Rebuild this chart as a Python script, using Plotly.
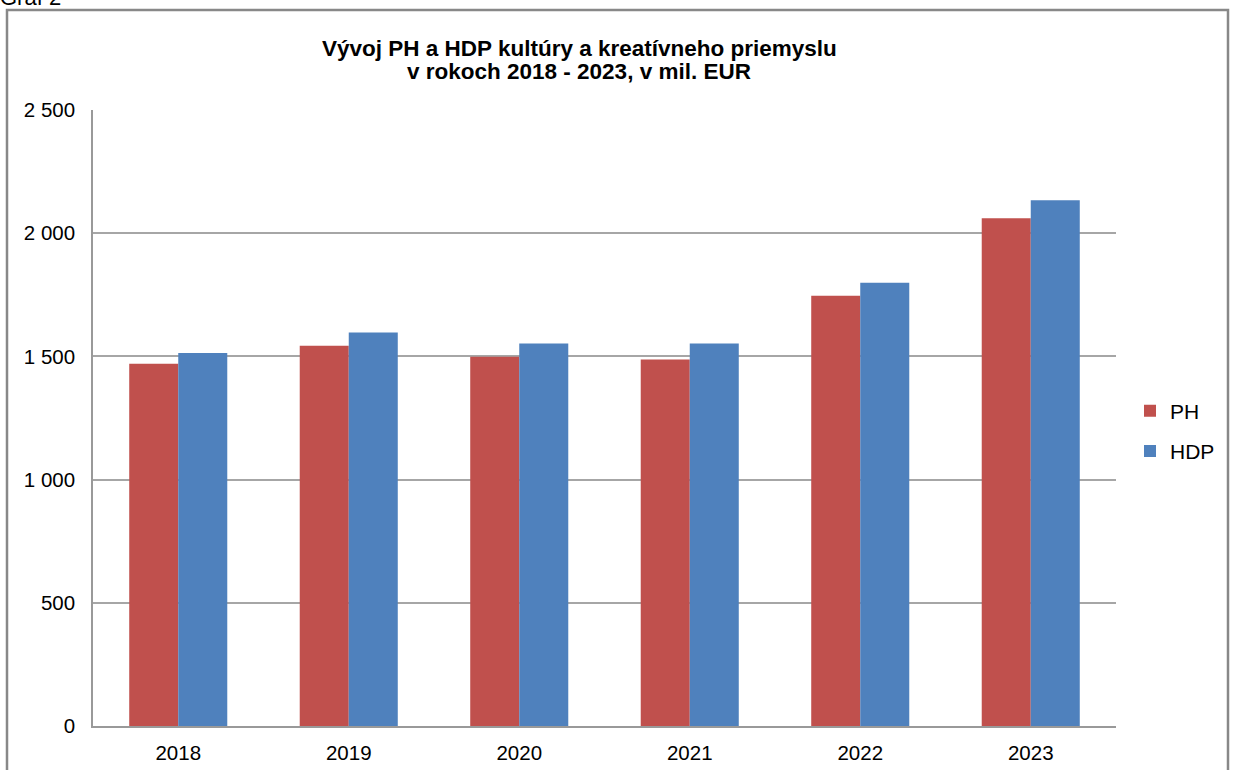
import plotly.graph_objects as go

years = ["2018", "2019", "2020", "2021", "2022", "2023"]
ph = [1470, 1543, 1499, 1487, 1746, 2061]
hdp = [1514, 1597, 1552, 1552, 1799, 2134]
ytick_vals = [0, 500, 1000, 1500, 2000, 2500]
ytick_text = ["0", "500", "1 000", "1 500", "2 000", "2 500"]

W, H = 1233, 770
L, R, T, B = 93, 117, 110, 44
pw, ph_ = W - L - R, H - T - B

def px(x):
    return (x - L) / pw

def py(y):
    return (H - B - y) / ph_

font = "Liberation Sans, Arial, sans-serif"

fig = go.Figure()
fig.add_trace(go.Bar(x=years, y=ph, name="PH", legendgroup="a",
                     marker=dict(color="#C0504D", line=dict(width=0))))
fig.add_trace(go.Bar(x=years, y=hdp, name="HDP", legendgroup="b",
                     marker=dict(color="#4F81BD", line=dict(width=0))))

fig.update_layout(
    width=W, height=H,
    margin=dict(l=L, r=R, t=T, b=B, autoexpand=False),
    paper_bgcolor="white", plot_bgcolor="white",
    barmode="group", bargap=0.425, bargroupgap=0,
    font=dict(family=font, size=20, color="black"),
    showlegend=True,
    legend=dict(x=px(1130), y=py(431), xanchor="left", yanchor="middle",
                font=dict(size=21), itemwidth=30, tracegroupgap=10,
                traceorder="grouped", bgcolor="rgba(0,0,0,0)"),
    xaxis=dict(showgrid=False, showline=True, linecolor="#999999", linewidth=1.5,
               ticks="", tickfont=dict(size=20.5), ticklabelstandoff=8),
    yaxis=dict(range=[0, 2500], tickvals=ytick_vals, ticktext=ytick_text,
               showgrid=True, gridcolor="#A6A6A6", gridwidth=1.5,
               showline=True, linecolor="#999999", linewidth=1.5,
               ticks="", tickfont=dict(size=20.5), ticklabelstandoff=12,
               zeroline=False),
)

fig.add_annotation(
    text="<b>Vývoj PH a HDP kultúry a kreatívneho priemyslu</b>",
    xref="paper", yref="paper", x=px(579), y=py(48), xanchor="center", yanchor="middle",
    showarrow=False, font=dict(size=22.5, family=font))
fig.add_annotation(
    text="<b>v rokoch 2018 - 2023, v mil. EUR</b>",
    xref="paper", yref="paper", x=px(579), y=py(72), xanchor="center", yanchor="middle",
    showarrow=False, font=dict(size=22.5, family=font))

fig.add_annotation(text="Graf 2", xref="paper", yref="paper", x=px(-2), y=py(-2),
                   xanchor="left", yanchor="middle", showarrow=False,
                   font=dict(size=22, family=font))

fig.add_shape(type="rect", xref="paper", yref="paper",
              x0=px(7), x1=px(1228), y0=py(10), y1=py(800),
              line=dict(color="#888888", width=2.5), layer="above")

fig.write_html("out.html", config={"displayModeBar": False},
               post_script="document.body.style.margin='0px';document.body.style.overflow='hidden';")
